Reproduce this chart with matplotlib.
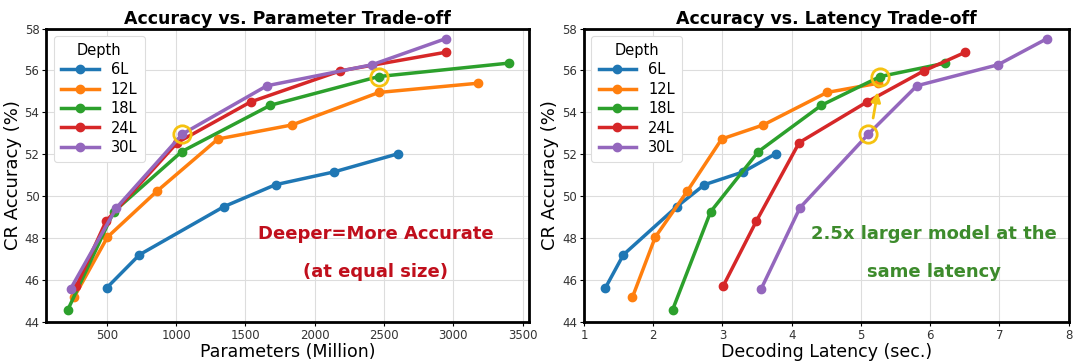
import numpy as np
import matplotlib
matplotlib.use("Agg")
import matplotlib.pyplot as plt

depths = ["6L", "12L", "18L", "24L", "30L"]
colors = ["#1f77b4", "#ff7f0e", "#2ca02c", "#d62728", "#9467bd"]

# parameters (million)
params_6 = [500, 736, 1344, 1717, 2139, 2603]
params_12 = [264, 505, 860, 1302, 1836, 2462, 3177]
params_18 = [219, 550, 1041, 1680, 2462, 3400]
params_24 = [281, 495, 1009, 1538, 2184, 2946]
params_30 = [239, 570, 1046, 1655, 2412, 2946]

# decoding latency (sec.)
lat_6 = [1.31, 1.57, 2.34, 2.74, 3.30, 3.77]
lat_12 = [1.70, 2.03, 2.49, 2.99, 3.59, 4.51, 5.25]
lat_18 = [2.28, 2.83, 3.52, 4.43, 5.28, 6.22]
lat_24 = [3.01, 3.49, 4.11, 5.09, 5.91, 6.51]
lat_30 = [3.56, 4.12, 5.11, 5.81, 6.98, 7.69]

# CR accuracy (%)
acc_6 = [45.63, 47.21, 49.50, 50.55, 51.16, 52.03]
acc_12 = [45.18, 48.05, 50.23, 52.73, 53.40, 54.95, 55.39]
acc_18 = [44.58, 49.26, 52.13, 54.34, 55.71, 56.35]
acc_24 = [45.71, 48.81, 52.56, 54.50, 55.98, 56.87]
acc_30 = [45.58, 49.45, 52.97, 55.27, 56.27, 57.52]

params = [params_6, params_12, params_18, params_24, params_30]
lats = [lat_6, lat_12, lat_18, lat_24, lat_30]
accs = [acc_6, acc_12, acc_18, acc_24, acc_30]

# highlighted points: (30L, 3rd) and (18L, 5th)
hl_params = [1046, 2462]
hl_lats = [5.11, 5.28]
hl_accs = [52.97, 55.71]

gold = "#f5c211"

fig = plt.figure(figsize=(10.8, 3.61), dpi=100)
ax1 = fig.add_axes([0.043, 0.108, 0.4464, 0.813])
ax2 = fig.add_axes([0.5407, 0.108, 0.4487, 0.813])

def style(ax, title, xlabel):
    ax.set_title(title, fontsize=12.5, fontweight="bold", pad=3)
    ax.set_xlabel(xlabel, fontsize=12.5, labelpad=1)
    ax.set_ylabel("CR Accuracy (%)", fontsize=13, labelpad=2)
    ax.set_ylim(44, 58)
    ax.set_yticks([44, 46, 48, 50, 52, 54, 56, 58])
    ax.grid(True, color="#dddddd", lw=0.8)
    ax.set_axisbelow(True)
    for s in ax.spines.values():
        s.set_linewidth(2)
        s.set_color("black")
    ax.tick_params(labelsize=8.5, labelcolor="#333333", length=3, width=0.8, pad=2)
    leg = ax.legend(title="Depth", loc="upper left", fontsize=10.5, title_fontsize=10.5,
                    handlelength=2.6, labelspacing=0.3, borderpad=0.5, framealpha=1,
                    edgecolor="#dddddd")
    leg.get_frame().set_linewidth(0.8)

for xs, ys, c, d in zip(params, accs, colors, depths):
    ax1.plot(xs, ys, "-o", color=c, lw=2.5, ms=6, label=d)
ax1.plot(hl_params, hl_accs, "o", ms=12.5, mfc="none", mec=gold, mew=2)
ax1.set_xlim(65, 3542)
ax1.set_xticks([500, 1000, 1500, 2000, 2500, 3000, 3500])
style(ax1, "Accuracy vs. Parameter Trade-off", "Parameters (Million)")
ax1.text(2440, 48.2, "Deeper=More Accurate", color="#c00f1c", fontsize=13,
         fontweight="bold", ha="center", va="center")
ax1.text(2440, 46.4, "(at equal size)", color="#c00f1c", fontsize=13,
         fontweight="bold", ha="center", va="center")

for xs, ys, c, d in zip(lats, accs, colors, depths):
    ax2.plot(xs, ys, "-o", color=c, lw=2.5, ms=6, label=d)
ax2.plot(hl_lats, hl_accs, "o", ms=12.5, mfc="none", mec=gold, mew=2)
ax2.annotate("", xy=(5.25, 55.1), xytext=(5.17, 53.6),
             arrowprops=dict(arrowstyle="-|>", color=gold, lw=2, mutation_scale=14))
ax2.set_xlim(1, 8)
ax2.set_xticks(range(1, 9))
style(ax2, "Accuracy vs. Latency Trade-off", "Decoding Latency (sec.)")
ax2.text(6.05, 48.2, "2.5x larger model at the", color="#3d8b2c", fontsize=13,
         fontweight="bold", ha="center", va="center")
ax2.text(6.05, 46.4, "same latency", color="#3d8b2c", fontsize=13,
         fontweight="bold", ha="center", va="center")

fig.savefig("out.png", dpi=100)
